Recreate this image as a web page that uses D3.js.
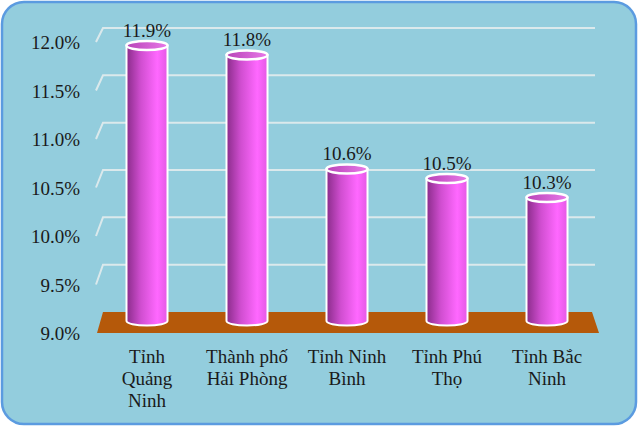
<!DOCTYPE html>
<html>
<head>
<meta charset="utf-8">
<style>
  body { margin: 0; background: #ffffff; }
</style>
</head>
<body>
<div id="chart"></div>
<script src="https://d3js.org/d3.v7.min.js"></script>
<script>

// data
var categories = ["Tỉnh Quảng Ninh", "Thành phố Hải Phòng", "Tỉnh Ninh Bình", "Tỉnh Phú Thọ", "Tỉnh Bắc Ninh"];
var labelLines = [["Tỉnh", "Quảng", "Ninh"], ["Thành phố", "Hải Phòng"], ["Tỉnh Ninh", "Bình"], ["Tỉnh Phú", "Thọ"], ["Tỉnh Bắc", "Ninh"]];
var values = [11.9, 11.8, 10.6, 10.5, 10.3];
var ticks = [9.0, 9.5, 10.0, 10.5, 11.0, 11.5, 12.0];

var W = 640, H = 430;
var font = "'Liberation Serif', 'Times New Roman', serif";
var textcolor = "#1a1a1a";
var fontsize = "19px";

var svg = d3.select("#chart").append("svg")
   .attr("width", W)
   .attr("height", H);

var defs = svg.append("defs");
var gBody = defs.append("linearGradient").attr("id", "cylBody")
   .attr("x1", "0%").attr("x2", "100%").attr("y1", "0%").attr("y2", "0%");
gBody.append("stop").attr("offset", "0%").attr("stop-color", "#8a2c8a");
gBody.append("stop").attr("offset", "35%").attr("stop-color", "#d04ed0");
gBody.append("stop").attr("offset", "75%").attr("stop-color", "#ff68ff");
gBody.append("stop").attr("offset", "100%").attr("stop-color", "#e458e4");
var gTop = defs.append("linearGradient").attr("id", "cylTop")
   .attr("x1", "0%").attr("x2", "100%").attr("y1", "0%").attr("y2", "0%");
gTop.append("stop").attr("offset", "0%").attr("stop-color", "#b844b8");
gTop.append("stop").attr("offset", "100%").attr("stop-color", "#e878e8");

// panel
svg.append("rect")
   .attr("x", 2).attr("y", 2)
   .attr("width", 634).attr("height", 422)
   .attr("rx", 22).attr("ry", 22)
   .style("fill", "#93cddd")
   .style("stroke", "#5b9be0")
   .style("stroke-width", 2.5);

// scales: back wall, front edge and bar mid-plane
var yBack = d3.scaleLinear().domain([9, 12]).range([312, 28]);
var yFront = d3.scaleLinear().domain([9, 12]).range([333, 42]);
var yBar = d3.scaleLinear().domain([9, 12]).range([321, 36]);
var x = d3.scaleBand().domain(categories).range([97, 597])
   .paddingInner(0.59).paddingOuter(0.295);

var backL = 103, backR = 595, frontL = 96;

// gridlines (skip the floor level)
svg.selectAll(".grid")
   .data(ticks.filter(function(t) { return t > 9; }))
   .enter().append("polyline")
   .attr("points", function(t) {
      return [frontL, yFront(t)] + " " + [backL, yBack(t)] + " " + [backR, yBack(t)];
   })
   .style("fill", "none")
   .style("stroke", "#dbe9ec")
   .style("stroke-width", 2);

// floor
svg.append("path")
   .attr("d", "M" + backL + "," + yBack(9) + " L" + 592 + "," + yBack(9) +
              " L" + 599 + "," + yFront(9) + " L" + 97 + "," + yFront(9) + " Z")
   .style("fill", "#b5590a");

// y tick labels
svg.selectAll(".tick")
   .data(ticks)
   .enter().append("text")
   .attr("x", 80)
   .attr("y", function(t) { return yFront(t) + 7; })
   .attr("font-family", font)
   .attr("fill", textcolor)
   .style("text-anchor", "end")
   .style("font-size", fontsize)
   .text(function(t) { return t.toFixed(1) + "%"; });

// cylinders
var rx = x.bandwidth() / 2, ry = 4.5;
var bars = svg.selectAll(".bar")
   .data(values)
   .enter().append("g");

bars.append("path")
   .attr("d", function(v, i) {
      var l = x(categories[i]), r = l + x.bandwidth();
      var top = yBar(v), bot = yBar(9);
      return "M" + l + "," + top + " L" + l + "," + bot +
             " A" + rx + "," + ry + " 0 0,0 " + r + "," + bot +
             " L" + r + "," + top + " Z";
   })
   .style("fill", "url(#cylBody)")
   .style("stroke", "#ffffff")
   .style("stroke-width", 2);

bars.append("ellipse")
   .attr("cx", function(v, i) { return x(categories[i]) + rx; })
   .attr("cy", function(v) { return yBar(v); })
   .attr("rx", rx)
   .attr("ry", ry)
   .style("fill", "url(#cylTop)")
   .style("stroke", "#ffffff")
   .style("stroke-width", 2.5);

// value labels
svg.selectAll(".val")
   .data(values)
   .enter().append("text")
   .attr("x", function(v, i) { return x(categories[i]) + rx; })
   .attr("y", function(v) { return yBar(v) - 9; })
   .attr("font-family", font)
   .attr("fill", textcolor)
   .style("text-anchor", "middle")
   .style("font-size", fontsize)
   .text(function(v) { return v.toFixed(1) + "%"; });

// category labels
labelLines.forEach(function(lines, i) {
   var t = svg.append("text")
      .attr("x", x(categories[i]) + rx)
      .attr("y", 363)
      .attr("font-family", font)
      .attr("fill", textcolor)
      .style("text-anchor", "middle")
      .style("font-size", fontsize);
   lines.forEach(function(s, k) {
      t.append("tspan")
         .attr("x", x(categories[i]) + rx)
         .attr("dy", k === 0 ? 0 : 22)
         .text(s);
   });
});

</script>
</body>
</html>
